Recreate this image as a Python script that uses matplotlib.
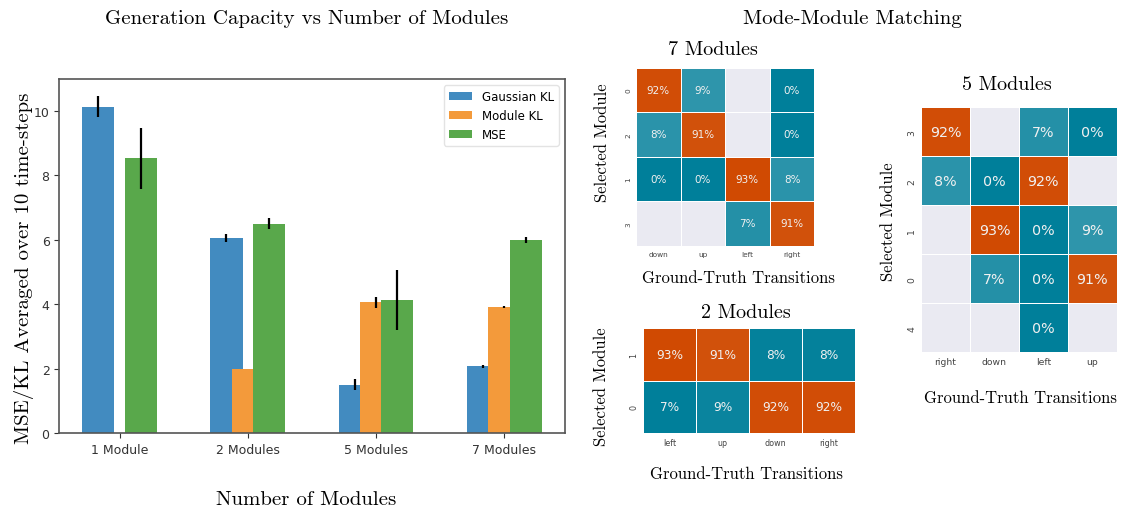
import numpy as np
import pandas as pd
import seaborn as sns
import matplotlib
matplotlib.use("Agg")
import matplotlib.pyplot as plt
from matplotlib.colors import LinearSegmentedColormap

# bar chart data
categories = ["1 Module", "2 Modules", "5 Modules", "7 Modules"]
gauss_kl = [10.13, 6.06, 1.50, 2.08]
gauss_err = [0.32, 0.12, 0.17, 0.05]
module_kl = [0.0, 1.98, 4.06, 3.91]
module_err = [0.0, 0.0, 0.17, 0.03]
mse = [8.53, 6.50, 4.13, 5.99]
mse_err = [0.95, 0.18, 0.93, 0.10]

# mode/module matching (percent of transitions, NaN = never selected)
nan = np.nan
rows_7 = ["0", "2", "1", "3"]
cols_7 = ["down", "up", "left", "right"]
match_7 = [[92, 9, nan, 0],
           [8, 91, nan, 0],
           [0, 0, 93, 8],
           [nan, nan, 7, 91]]

rows_2 = ["1", "0"]
cols_2 = ["left", "up", "down", "right"]
match_2 = [[93, 91, 8, 8],
           [7, 9, 92, 92]]

rows_5 = ["3", "2", "1", "0", "4"]
cols_5 = ["right", "down", "left", "up"]
match_5 = [[92, nan, 7, 0],
           [8, 0, 92, nan],
           [nan, 93, 0, 9],
           [nan, 7, 0, 91],
           [nan, nan, 0, nan]]

W, H = 1122, 510
serif = "cmr10"

fig = plt.figure(figsize=(W / 100, H / 100), dpi=100)


def px_axes(x0, y0, x1, y1):
    # axes from pixel box (top-left origin)
    return fig.add_axes([x0 / W, 1 - y1 / H, (x1 - x0) / W, (y1 - y0) / H])


def ftext(x, y, s, size, **kw):
    fig.text(x / W, 1 - y / H, s, fontsize=size, family=serif,
             ha="center", va="center", **kw)


# ---- left: generation capacity bars ----
ax = px_axes(59.3, 80.4, 564.6, 434.3)
x = np.arange(len(categories))
w = 0.25
off = w / 1.5
err_kw = dict(elinewidth=1.6, ecolor="black", capsize=0)
ax.bar(x - off, gauss_kl, w, yerr=gauss_err, color="#428bc0",
       label="Gaussian KL", error_kw=err_kw)
ax.bar(x, module_kl, w, yerr=module_err, color="#f39a3b",
       label="Module KL", error_kw=err_kw)
ax.bar(x + off, mse, w, yerr=mse_err, color="#59a84b",
       label="MSE", error_kw=err_kw)
ax.set_xticks(x)
ax.set_xticklabels(categories)
ax.set_yticks([0, 2, 4, 6, 8, 10])
ax.tick_params(labelsize=9, colors="#333333")
for sp in ax.spines.values():
    sp.set_color("#555555")
    sp.set_linewidth(1.2)
leg = ax.legend(loc="upper right", fontsize=8.5)
leg.get_frame().set_edgecolor("#dddddd")

ftext(307, 19, "Generation Capacity vs Number of Modules", 15)
ftext(306, 500, "Number of Modules", 15)
ftext(24, 268, "MSE/KL Averaged over 10 time-steps", 15, rotation=90)
ftext(852, 19, "Mode-Module Matching", 15)

# ---- right: matching heatmaps ----
cmap = LinearSegmentedColormap.from_list("match", ["#007f9a", "#f4f4f4", "#d04a02"])


def matching(box, data, rows, cols, annot_size, tick_size):
    hax = px_axes(*box)
    hax.set_facecolor("#eaeaf2")
    df = pd.DataFrame(data, index=rows, columns=cols)
    labels = df.map(lambda v: "" if np.isnan(v) else f"{v:.0f}%")
    # colour scale spans each matrix's own range
    sns.heatmap(df, annot=labels, fmt="", cmap=cmap,
                cbar=False, linewidths=0.7, linecolor="white", ax=hax,
                annot_kws={"fontsize": annot_size, "color": "#f0f0f0"})
    hax.tick_params(length=0, labelsize=tick_size, colors="#444444")
    hax.set_yticklabels(rows, rotation=90, va="center")
    hax.set_xlabel("")
    hax.set_ylabel("")
    return hax


matching((636, 68.7, 814.3, 246.7), match_7, rows_7, cols_7, 7.5, 5.3)
ftext(713, 50, "7 Modules", 14.5)
ftext(739, 278, "Ground-Truth Transitions", 12)
ftext(602, 143, "Selected Module", 12, rotation=90)

matching((643.3, 329, 855, 434), match_2, rows_2, cols_2, 8.7, 5.8)
ftext(746, 313, "2 Modules", 14.5)
ftext(746, 474, "Ground-Truth Transitions", 12)
ftext(601, 387, "Selected Module", 12, rotation=90)

matching((921, 108.3, 1116.7, 353.3), match_5, rows_5, cols_5, 10.3, 6.7)
ftext(1007, 85, "5 Modules", 14.5)
ftext(1021, 398, "Ground-Truth Transitions", 12)
ftext(888, 222, "Selected Module", 12, rotation=90)

fig.savefig("out.png", dpi=100)
